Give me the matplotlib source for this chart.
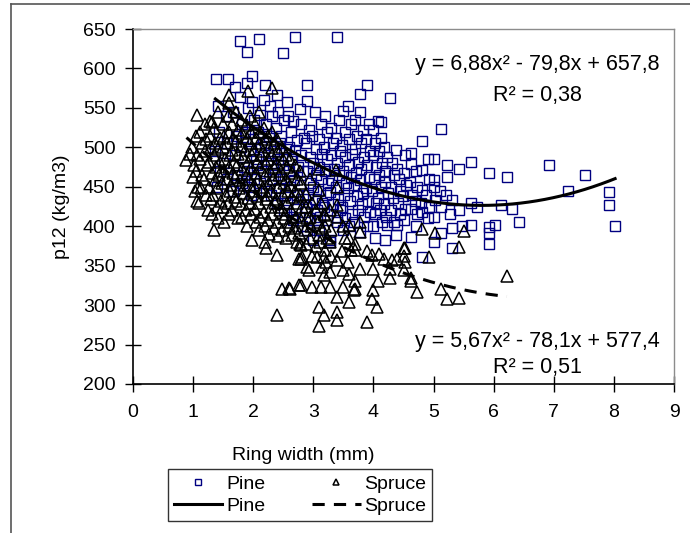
import matplotlib
matplotlib.use('Agg')
import matplotlib.pyplot as plt
import numpy as np
from matplotlib.lines import Line2D

plt.rcParams['font.family'] = ['Liberation Sans', 'DejaVu Sans']

# ---------------- data ----------------
pine_x = [
    1.38, 1.41, 1.43, 1.37, 1.44, 1.40,
    1.58, 1.54, 1.57, 1.52, 1.56,
    1.70, 1.67, 1.72, 1.69, 1.73, 1.66,
    1.78, 1.78, 1.82, 1.79, 1.84, 1.81,
    1.89, 1.89, 1.92, 1.87, 1.94, 1.90, 1.93,
    1.98, 1.98, 2.02, 1.99, 2.04, 2.01, 1.97,
    2.09, 2.20, 2.12, 2.08, 2.13, 2.07, 2.11,
    2.18, 2.22, 2.19, 2.24, 2.17, 2.21,
    2.28, 2.39, 2.32, 2.27, 2.34, 2.29, 2.33, 2.30,
    2.42, 2.38, 2.44, 2.41, 2.37, 2.43, 2.40,
    2.49, 2.56, 2.52, 2.47, 2.54, 2.50, 2.46, 2.53, 2.51,
    2.58, 2.63, 2.60, 2.65, 2.59, 2.62, 2.57, 2.64,
    2.69, 2.67, 2.78, 2.73, 2.70, 2.74, 2.68, 2.72, 2.71, 2.67,
    2.89, 2.80, 2.84, 2.79, 2.83, 2.77, 2.82, 2.86, 2.81,
    2.89, 2.92, 2.88, 2.94, 2.90, 2.95, 2.91, 2.87, 2.93, 2.89,
    3.02, 2.98, 3.04, 3.00, 3.05, 2.99, 3.03, 3.06, 3.06, 3.00,
    3.12, 3.09, 3.14, 3.10, 3.13, 3.08, 3.15, 3.11, 3.09,
    3.20, 3.23, 3.18, 3.22, 3.19, 3.24, 3.21, 3.17, 3.23, 3.28,
    3.30, 3.33, 3.29, 3.34, 3.31, 3.27, 3.32, 3.39, 3.28,
    3.39, 3.42, 3.38, 3.44, 3.40, 3.43, 3.37, 3.41, 3.45, 3.39,
    3.50, 3.52, 3.48, 3.53, 3.49, 3.54, 3.51, 3.47, 3.52, 3.49,
    3.58, 3.62, 3.60, 3.64, 3.59, 3.63, 3.57, 3.61, 3.65, 3.60,
    3.70, 3.73, 3.69, 3.74, 3.71, 3.67, 3.72, 3.75, 3.68,
    3.78, 3.78, 3.82, 3.79, 3.84, 3.80, 3.77, 3.83, 3.81, 3.85, 3.78,
    3.89, 3.92, 3.88, 3.94, 3.90, 3.93, 3.87, 3.91, 3.95, 3.89,
    4.00, 4.03, 3.99, 4.04, 4.01, 3.98, 4.05, 4.02, 3.99, 4.03,
    4.08, 4.12, 4.10, 4.14, 4.09, 4.13, 4.07, 4.11, 4.15,
    4.28, 4.18, 4.22, 4.19, 4.20, 4.24, 4.17, 4.21, 4.22, 4.20,
    4.12, 4.37, 4.31, 4.34, 4.29, 4.33, 4.30, 4.35, 4.37,
    4.39, 4.42, 4.44, 4.41, 4.45, 4.39,
    4.52, 4.50, 4.54, 4.49, 4.53, 4.51,
    4.62, 4.62, 4.60, 4.64, 4.62, 4.62,
    4.70, 4.73, 4.69, 4.72, 4.70,
    4.81, 4.81, 4.81, 4.79, 4.81, 4.81,
    4.90, 4.92, 4.88, 4.93, 4.91,
    5.00, 5.00, 5.00, 5.02, 5.00, 5.00,
    5.12, 5.12, 5.12, 5.10,
    5.23, 5.23, 5.20, 5.31, 5.31, 5.31, 5.27,
    5.42, 5.42, 5.48,
    5.62, 5.62, 5.62, 5.73,
    5.92, 5.92, 5.92, 5.92, 6.03, 6.12, 6.22, 6.31, 6.42,
    6.92, 7.23, 7.52, 7.92, 7.92, 8.02,
]
pine_y = [
    586, 553, 520, 495, 470, 450,
    586, 540, 505, 480, 460,
    577, 545, 515, 490, 465, 445,
    635, 564, 530, 500, 475, 455,
    621, 582, 550, 520, 495, 470, 450,
    590, 558, 535, 510, 485, 460, 440,
    637, 579, 541, 520, 500, 478, 455,
    560, 530, 505, 490, 470, 445,
    553, 566, 540, 515, 495, 480, 460, 440,
    545, 525, 505, 485, 465, 448, 430,
    620, 558, 535, 515, 498, 478, 460, 440, 420,
    540, 520, 500, 485, 470, 450, 430, 412,
    640, 534, 548, 509, 495, 475, 458, 440, 422, 408,
    559, 530, 512, 490, 470, 452, 435, 418, 400,
    579, 522, 505, 488, 470, 455, 440, 425, 410, 395,
    545, 515, 498, 480, 465, 450, 435, 420, 408, 382,
    530, 510, 492, 475, 460, 445, 430, 412, 395,
    540, 520, 500, 485, 470, 455, 440, 425, 408, 382,
    525, 505, 490, 472, 458, 443, 428, 412, 380,
    640, 535, 512, 495, 480, 465, 450, 435, 420, 405,
    546, 520, 503, 488, 470, 455, 440, 425, 410, 395,
    553, 530, 510, 492, 478, 462, 448, 432, 415, 400,
    535, 515, 498, 482, 468, 452, 438, 420, 405,
    567, 545, 522, 505, 488, 472, 458, 442, 428, 412, 393,
    579, 530, 510, 495, 478, 462, 448, 432, 418, 400,
    522, 505, 490, 475, 460, 445, 430, 415, 400, 385,
    534, 512, 495, 480, 465, 450, 436, 420, 405,
    563, 501, 488, 470, 456, 442, 428, 412, 401, 382,
    532, 497, 480, 465, 450, 436, 420, 405, 389,
    473, 460, 445, 430, 415, 401,
    490, 468, 452, 438, 422, 408,
    493, 479, 456, 440, 422, 386,
    470, 450, 432, 415, 400,
    508, 471, 446, 430, 418, 361,
    485, 460, 440, 425, 410,
    485, 458, 450, 433, 412, 380,
    523, 424, 391, 445,
    478, 463, 440, 433, 398, 372, 415,
    473, 420, 400,
    482, 430, 401, 424,
    467, 399, 391, 377, 401, 427, 463, 422, 405,
    478, 445, 465, 444, 427, 400,
]

spruce_x = [
    0.89, 0.95, 0.98, 1.06, 1.28, 1.31, 1.59, 1.92, 2.31, 1.34,
    1.98, 2.20, 2.39, 2.48, 2.59, 2.39, 2.79, 2.79, 2.79, 2.98,
    2.98, 2.89, 3.09, 3.17, 3.09, 3.39, 3.39, 3.59, 3.39, 3.28,
    3.50, 3.67, 4.00, 3.97, 4.06, 3.89, 4.08, 4.28, 4.50, 4.50,
    3.78, 3.50, 3.14, 4.62, 4.72, 5.12, 5.22, 5.42, 4.52, 4.52,
    4.92, 5.42, 5.51, 5.03, 4.81, 3.78, 3.59, 3.39, 3.20, 3.09,
    2.78, 2.81, 3.17, 3.39, 3.48, 3.70, 3.70, 3.89, 3.98, 4.09,
    4.17, 4.31, 4.39, 4.28, 4.62, 4.50, 4.00, 3.28, 3.17, 2.92,
    2.62, 3.70, 3.70, 3.09, 3.37, 3.39, 3.09, 2.87, 3.78, 3.39,
    3.17, 6.22, 2.76, 2.76, 1.60,
    1.01, 0.99, 1.03,
    1.05, 1.07, 1.04, 1.08, 1.06,
    1.12, 1.14, 1.11, 1.15, 1.13, 1.10,
    1.20, 1.22, 1.19, 1.23, 1.18, 1.21, 1.24,
    1.28, 1.30, 1.27, 1.31, 1.26, 1.29, 1.32,
    1.35, 1.37, 1.34, 1.38, 1.36, 1.33, 1.39,
    1.42, 1.44, 1.41, 1.45, 1.43, 1.40, 1.46, 1.42,
    1.50, 1.52, 1.49, 1.53, 1.51, 1.48, 1.54, 1.50, 1.52,
    1.58, 1.60, 1.57, 1.61, 1.59, 1.56, 1.62, 1.58, 1.60,
    1.65, 1.67, 1.64, 1.68, 1.66, 1.63, 1.69, 1.65,
    1.72, 1.74, 1.71, 1.75, 1.73, 1.70, 1.76, 1.72, 1.74,
    1.80, 1.82, 1.79, 1.83, 1.81, 1.78, 1.84, 1.80, 1.82,
    1.88, 1.90, 1.87, 1.91, 1.89, 1.86, 1.92, 1.88, 1.90,
    1.95, 1.97, 1.94, 1.98, 1.96, 1.93, 1.99, 1.95, 1.97,
    2.03, 2.05, 2.02, 2.06, 2.04, 2.01, 2.07, 2.03, 2.05,
    2.10, 2.12, 2.09, 2.13, 2.11, 2.08, 2.14, 2.10, 2.12, 2.10,
    2.18, 2.20, 2.17, 2.21, 2.19, 2.16, 2.22, 2.18, 2.20,
    2.25, 2.27, 2.24, 2.28, 2.26, 2.23, 2.29, 2.25, 2.27, 2.22,
    2.32, 2.34, 2.31, 2.35, 2.33, 2.30, 2.36, 2.32, 2.34,
    2.40, 2.42, 2.39, 2.43, 2.41, 2.38, 2.44, 2.40, 2.42,
    2.48, 2.50, 2.47, 2.51, 2.49, 2.46, 2.52, 2.48,
    2.55, 2.57, 2.54, 2.58, 2.56, 2.53, 2.59, 2.55,
    2.62, 2.64, 2.61, 2.65, 2.63, 2.60, 2.64,
    2.70, 2.72, 2.69, 2.73, 2.71, 2.68, 2.72,
    2.78, 2.80, 2.77, 2.81, 2.79, 2.76,
    2.87, 2.89, 2.86, 2.88,
    2.95, 2.97, 2.94, 2.96, 2.95,
    3.05, 3.07, 3.04, 3.06,
    3.12, 3.14, 3.11, 3.13,
    3.20, 3.22, 3.19, 3.21,
    3.28, 3.30, 3.27, 3.29,
    3.50, 3.52, 3.60, 3.62, 3.58, 3.60,
]
spruce_y = [
    484, 492, 501, 541, 534, 532, 566, 572, 575, 395,
    382, 380, 364, 321, 322, 287, 376, 359, 326, 323,
    362, 348, 297, 287, 274, 291, 281, 304, 310, 323,
    323, 319, 319, 308, 297, 278, 331, 334, 372, 362,
    346, 344, 348, 331, 317, 321, 308, 309, 373, 355,
    361, 374, 394, 391, 396, 393, 401, 412, 414, 389,
    378, 361, 361, 357, 369, 378, 370, 369, 363, 365,
    359, 357, 359, 346, 334, 344, 346, 342, 338, 344,
    321, 331, 321, 473, 471, 450, 446, 441, 405, 427,
    416, 337, 359, 325, 556,
    478, 462, 445,
    515, 490, 470, 450, 432,
    520, 505, 485, 465, 448, 430,
    530, 510, 495, 478, 460, 440, 420,
    515, 500, 482, 468, 450, 435, 415,
    525, 505, 490, 475, 458, 440, 425,
    545, 512, 498, 482, 465, 448, 432, 410,
    530, 515, 500, 485, 470, 455, 440, 425, 405,
    540, 520, 505, 490, 475, 460, 445, 430, 415,
    530, 512, 497, 482, 468, 452, 437, 420,
    545, 522, 508, 492, 478, 462, 448, 432, 410,
    535, 518, 502, 488, 472, 458, 442, 428, 412,
    528, 512, 496, 482, 466, 452, 436, 420, 400,
    540, 520, 505, 490, 475, 460, 445, 430, 415,
    530, 512, 498, 482, 468, 452, 438, 422, 405,
    545, 520, 505, 490, 475, 460, 445, 430, 412, 395,
    525, 510, 495, 480, 465, 450, 435, 418, 400,
    515, 500, 485, 470, 455, 440, 425, 408, 390, 372,
    520, 505, 490, 475, 460, 445, 430, 415, 398,
    510, 495, 480, 465, 450, 435, 420, 405, 388,
    500, 485, 470, 455, 440, 425, 410, 395,
    490, 475, 460, 445, 430, 415, 400, 385,
    485, 468, 452, 437, 420, 405, 389,
    478, 460, 445, 430, 412, 398, 380,
    470, 455, 440, 425, 408, 392,
    425, 410, 395, 378,
    460, 430, 412, 400, 385,
    420, 405, 375, 361,
    430, 398, 380, 323,
    400, 385, 370, 355,
    420, 395, 380, 362,
    400, 385, 385, 370, 355, 340,
]

# quadratic trend coefficients as printed on the chart
pine_coef = [6.88, -79.8, 657.8]
spruce_coef = [5.67, -78.1, 577.4]
pine_eq = "y = 6,88x² - 79,8x + 657,8"
pine_r2 = "R² = 0,38"
spruce_eq = "y = 5,67x² - 78,1x + 577,4"
spruce_r2 = "R² = 0,51"

x_ticks = list(range(0, 10))
y_ticks = list(range(200, 651, 50))

# ---------------- figure ----------------
W, H = 690, 533
fig = plt.figure(figsize=(W / 100, H / 100), dpi=100)

def fx(px):
    return px / W

def fy(py):
    return 1 - py / H

ax = fig.add_axes([fx(133), fy(384), fx(674) - fx(133), fy(29) - fy(384)])

sc_p, = ax.plot(pine_x, pine_y, linestyle='none', marker='s', ms=7,
                mfc='none', mec='#000080', mew=1.0, label='Pine', zorder=2)
sc_s, = ax.plot(spruce_x, spruce_y, linestyle='none', marker='^', ms=8,
                mfc='none', mec='black', mew=1.1, label='Spruce', zorder=3)

xp = np.linspace(min(pine_x), max(pine_x), 200)
ln_p, = ax.plot(xp, np.polyval(pine_coef, xp), color='black', lw=2.2,
                label='Pine', zorder=4)
xs = np.linspace(min(spruce_x), max(spruce_x), 200)
ln_s, = ax.plot(xs, np.polyval(spruce_coef, xs), color='black', lw=2.2,
                dashes=(4, 3), label='Spruce', zorder=4)

ax.set_xlim(0, 9)
ax.set_ylim(200, 650)
ax.set_xticks(x_ticks)
ax.set_yticks(y_ticks)
ax.tick_params(direction='inout', length=11, width=1.0, labelsize=14,
               colors='black', pad=7)
ax.tick_params(axis='x', pad=9)
for s in ['left', 'bottom']:
    ax.spines[s].set_color('black')
    ax.spines[s].set_linewidth(1.2)
for s in ['top', 'right']:
    ax.spines[s].set_color('#8c8c8c')
    ax.spines[s].set_linewidth(1.0)

fig.text(fx(62), fy(207), 'p12 (kg/m3)', fontsize=14, rotation=90,
         ha='center', va='center')
fig.text(fx(303), fy(455), 'Ring width (mm)', fontsize=14,
         ha='center', va='center')

fig.text(fx(537), fy(64), pine_eq, fontsize=15.5, ha='center', va='center')
fig.text(fx(537), fy(95), pine_r2, fontsize=15.5, ha='center', va='center')
fig.text(fx(537), fy(342), spruce_eq, fontsize=15.5, ha='center', va='center')
fig.text(fx(537), fy(368), spruce_r2, fontsize=15.5, ha='center', va='center')

leg = fig.legend([sc_p, ln_p, sc_s, ln_s], ['Pine', 'Pine', 'Spruce', 'Spruce'],
                 ncol=2, loc='center', bbox_to_anchor=(fx(300), fy(495)),
                 fontsize=14, frameon=True, fancybox=False, shadow=False,
                 markerscale=0.6, handlelength=2.5, handletextpad=0.2,
                 columnspacing=2.4, borderpad=0.3, labelspacing=0.25)
leg.get_frame().set_edgecolor('black')
leg.get_frame().set_linewidth(1.0)

# outer chart frame (left and top edges visible)
fig.add_artist(Line2D([fx(11), fx(11)], [fy(4), 0], color='#555555', lw=1.2))
fig.add_artist(Line2D([fx(11), 1], [fy(4), fy(4)], color='#555555', lw=1.2))

fig.savefig('out.png', dpi=100)
